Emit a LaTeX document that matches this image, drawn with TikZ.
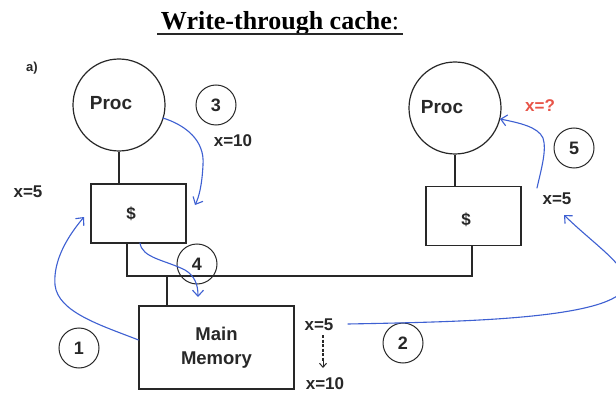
\documentclass[tikz,border=0pt]{standalone}
\usepackage{fontspec}
\setmainfont{Liberation Serif}
\setsansfont{Liberation Sans}
\usetikzlibrary{arrows.meta,calc}
\definecolor{penblue}{RGB}{62,96,210}
\definecolor{penred}{RGB}{232,84,72}
\definecolor{ink}{RGB}{40,40,40}

\begin{document}
\begin{tikzpicture}[x=1pt,y=-1pt,
  lbl/.style={font=\sffamily\bfseries\fontsize{17}{19}\selectfont, text=ink, inner sep=0pt},
  unit/.style={draw=ink, line width=1.2pt},
  proc/.style={unit, circle, minimum size=92pt, inner sep=0pt},
  cache/.style={unit, minimum width=95pt, minimum height=59pt, inner sep=0pt},
  memory/.style={unit, minimum width=155pt, minimum height=83pt, inner sep=0pt, align=center,
    font=\sffamily\bfseries\fontsize{18.5}{24}\selectfont, text=ink},
  stepno/.style={draw=ink, line width=1pt, circle, minimum size=40pt, inner sep=0pt,
    font=\sffamily\bfseries\fontsize{18}{20}\selectfont, text=ink},
  wire/.style={ink, line width=1.2pt},
  pen/.style={penblue, line width=1.1pt, line cap=round, -{Straight Barb[length=6pt,width=11pt]}},
]
\useasboundingbox[fill=white] (0,0) rectangle (616,393);

% heading
\node[inner sep=0pt, anchor=base, font=\fontsize{26}{28}\selectfont] (title) at (280,30)
  {\textbf{Write-through cache}:};
\draw[ink, line width=1.6pt] (157,34) -- (403,34);
\node[lbl, font=\sffamily\bfseries\fontsize{13}{14}\selectfont] (parta) at (32,68) {a)};

% processors and caches
\node[proc] (lproc) at (119,105) {};
\node[lbl, font=\sffamily\bfseries\fontsize{19}{20}\selectfont] (lproctxt) at (111,103) {Proc};
\node[proc] (rproc) at (455,108) {};
\node[lbl, font=\sffamily\bfseries\fontsize{19}{20}\selectfont] (rproctxt) at (442,107) {Proc};

\node[cache] (lbox) at (138.5,213.5) {};
\node[lbl] (ldollar) at (131,214) {\$};
\node[cache] (rbox) at (473.5,216) {};
\node[lbl] (rdollar) at (466,220) {\$};

\draw[wire] (lproc.south) -- (lproc.south |- lbox.north);
\draw[wire] (rproc.south) -- (rproc.south |- rbox.north);

% shared bus and main memory
\node[memory] (mem) at (216.5,347.5) {Main\\Memory};
\coordinate (busL) at (127,276);
\coordinate (busR) at (472,276);
\coordinate (tap) at (167,276);
\draw[wire] (busL |- lbox.south) -- (busL) -- (busR) -- (busR |- rbox.south);
\draw[wire] (tap) -- (tap |- mem.north);

% step numbers
\node[stepno] (s1) at (79,348) {1};
\node[stepno] (s2) at (403,343) {2};
\node[stepno] (s3) at (216,105) {3};
\node[stepno] (s4) at (197,264) {4};
\node[stepno] (s5) at (574,148) {5};

% values
\node[lbl] (vl) at (28,192) {x=5};
\node[lbl] (v3) at (233,141) {x=10};
\node[lbl] (vr) at (557,199) {x=5};
\node[lbl, text=penred] (vq) at (540,106) {x=?};
\node[lbl] (vm5) at (319,325) {x=5};
\node[lbl] (vm10) at (325,384) {x=10};
\coordinate (dtop) at (323,335);
\coordinate (dmid) at (323,361);
\coordinate (dend) at (323,368);
\draw[ink, line width=2.4pt, dash pattern=on 3pt off 1.5pt] (dtop) -- (dmid);
\draw[ink, line width=1pt, -{Straight Barb[length=4pt,width=7pt]}] (dmid) -- (dend);

% pen strokes for the data movement
\coordinate (memL) at ($(mem.north west)!0.41!(mem.south west)$);
\coordinate (t1) at (84,217);
\draw[pen] (memL) .. controls (100,325) and (58,312) .. (55,285)
                  .. controls (53,260) and (68,236) .. (t1);

\coordinate (p3) at (163,118);
\coordinate (t3) at (195,205);
\draw[pen] (p3) .. controls (185,125) and (205,140) .. (203,165)
                .. controls (202,185) and (199,197) .. (t3);

\coordinate (b4) at (140,243);
\coordinate (t4) at (198,297);
\draw[pen] (b4) .. controls (142,258) and (165,260) .. (185,270)
                .. controls (195,276) and (198,285) .. (t4);

\coordinate (m2) at (348,324);
\coordinate (t2) at (564,215);
\begin{scope}
  \clip (0,0) rectangle (616,393);
  \draw[pen] (m2) .. controls (450,322) and (595,320) .. (622,292)
                  .. controls (638,272) and (600,250) .. (t2);
\end{scope}

\coordinate (c5) at (537,188);
\coordinate (t5) at (500,119);
\draw[pen] (c5) .. controls (541,170) and (547,150) .. (543,138)
                .. controls (538,127) and (520,123) .. (t5);
\end{tikzpicture}
\end{document}
